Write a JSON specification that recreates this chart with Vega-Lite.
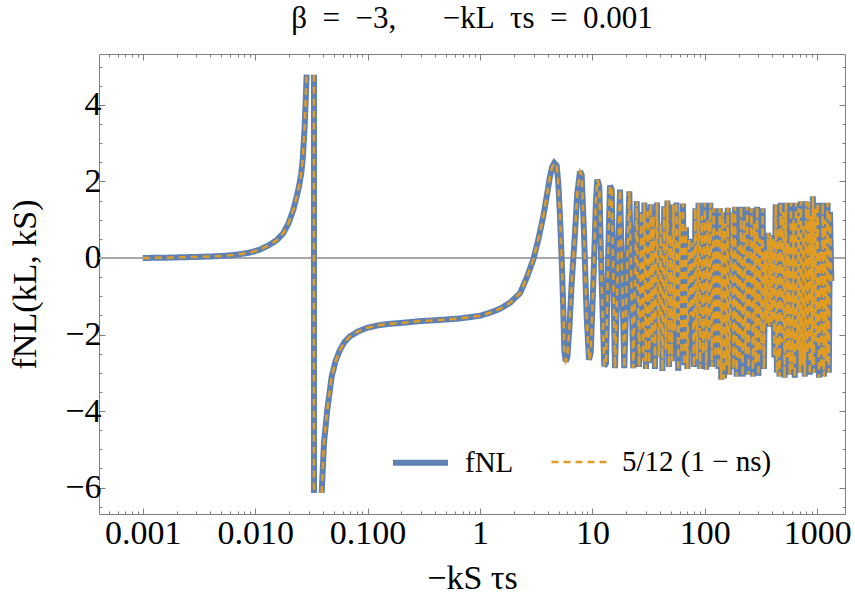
{
  "$schema": "https://vega.github.io/schema/vega-lite/v6.json",
  "width": 746,
  "height": 460,
  "autosize": {"type": "none"},
  "padding": {"left": 99, "top": 54, "right": 10, "bottom": 95},
  "background": "white",
  "title": {"text": "β\u00a0\u00a0=\u00a0\u00a0−3,\u00a0\u00a0\u00a0\u00a0\u00a0\u00a0−kL\u00a0\u00a0τs\u00a0\u00a0=\u00a0\u00a00.001", "font": "Liberation Serif", "fontSize": 31, "fontWeight": "normal", "color": "black", "anchor": "middle", "offset": 15},
  "config": {
    "view": {"stroke": "#7f7f7f", "strokeWidth": 1},
    "axis": {"domain": false, "grid": false, "tickColor": "#7f7f7f", "labelFont": "Liberation Serif", "labelFontSize": 34, "labelColor": "black", "labelOverlap": false, "labelBound": false, "labelFlush": false, "titleFont": "Liberation Serif", "titleFontSize": 34, "titleFontWeight": "normal", "titleColor": "black"}
  },
  "datasets": {
    "curve": [
      {"x": 0.001, "y": 0.0, "seg": "a"},
      {"x": 0.001746, "y": 0.01, "seg": "a"},
      {"x": 0.003228, "y": 0.03, "seg": "a"},
      {"x": 0.004862, "y": 0.05, "seg": "a"},
      {"x": 0.006607, "y": 0.08, "seg": "a"},
      {"x": 0.00899, "y": 0.14, "seg": "a"},
      {"x": 0.01104, "y": 0.22, "seg": "a"},
      {"x": 0.01354, "y": 0.35, "seg": "a"},
      {"x": 0.01563, "y": 0.47, "seg": "a"},
      {"x": 0.01779, "y": 0.65, "seg": "a"},
      {"x": 0.01977, "y": 0.9, "seg": "a"},
      {"x": 0.02184, "y": 1.26, "seg": "a"},
      {"x": 0.0233, "y": 1.58, "seg": "a"},
      {"x": 0.02467, "y": 1.9, "seg": "a"},
      {"x": 0.02567, "y": 2.2, "seg": "a"},
      {"x": 0.02647, "y": 2.57, "seg": "a"},
      {"x": 0.02757, "y": 3.44, "seg": "a"},
      {"x": 0.02831, "y": 4.31, "seg": "a"},
      {"x": 0.02871, "y": 4.79, "seg": "a"},
      {"x": 0.03335, "y": 4.79, "seg": "b"},
      {"x": 0.03335, "y": -6.14, "seg": "b"},
      {"x": 0.03905, "y": -6.14, "seg": "c"},
      {"x": 0.04094, "y": -4.84, "seg": "c"},
      {"x": 0.0438, "y": -3.97, "seg": "c"},
      {"x": 0.04795, "y": -3.1, "seg": "c"},
      {"x": 0.05182, "y": -2.7, "seg": "c"},
      {"x": 0.0568, "y": -2.4, "seg": "c"},
      {"x": 0.06293, "y": -2.18, "seg": "c"},
      {"x": 0.0697, "y": -2.05, "seg": "c"},
      {"x": 0.08214, "y": -1.92, "seg": "c"},
      {"x": 0.09813, "y": -1.83, "seg": "c"},
      {"x": 0.1238, "y": -1.76, "seg": "c"},
      {"x": 0.1582, "y": -1.72, "seg": "c"},
      {"x": 0.1942, "y": -1.7, "seg": "c"},
      {"x": 0.2925, "y": -1.65, "seg": "c"},
      {"x": 0.4405, "y": -1.62, "seg": "c"},
      {"x": 0.6639, "y": -1.58, "seg": "c"},
      {"x": 1.0, "y": -1.51, "seg": "c"},
      {"x": 1.227, "y": -1.43, "seg": "c"},
      {"x": 1.506, "y": -1.33, "seg": "c"},
      {"x": 1.849, "y": -1.17, "seg": "c"},
      {"x": 2.27, "y": -0.92, "seg": "c"},
      {"x": 2.603, "y": -0.52, "seg": "c"},
      {"x": 2.981, "y": -0.04, "seg": "c"},
      {"x": 3.302, "y": 0.48, "seg": "c"},
      {"x": 3.658, "y": 1.09, "seg": "c"},
      {"x": 3.922, "y": 1.61, "seg": "c"},
      {"x": 4.196, "y": 2.13, "seg": "c"},
      {"x": 4.398, "y": 2.39, "seg": "c"},
      {"x": 4.581, "y": 2.48, "seg": "c"},
      {"x": 4.812, "y": 2.41, "seg": "c"},
      {"x": 4.973, "y": 1.96, "seg": "c"},
      {"x": 5.149, "y": 1.09, "seg": "c"},
      {"x": 5.332, "y": -0.04, "seg": "c"},
      {"x": 5.51, "y": -1.35, "seg": "c"},
      {"x": 5.623, "y": -2.4, "seg": "c"},
      {"x": 5.788, "y": -2.7, "seg": "c"},
      {"x": 5.98, "y": -2.61, "seg": "c"},
      {"x": 6.231, "y": -1.87, "seg": "c"},
      {"x": 6.545, "y": -0.65, "seg": "c"},
      {"x": 7.002, "y": 0.65, "seg": "c"},
      {"x": 7.34, "y": 1.7, "seg": "c"},
      {"x": 7.757, "y": 2.26, "seg": "c"},
      {"x": 8.031, "y": 2.18, "seg": "c"},
      {"x": 8.421, "y": 0.65, "seg": "c"},
      {"x": 8.898, "y": -1.53, "seg": "c"},
      {"x": 9.329, "y": -2.66, "seg": "c"},
      {"x": 9.658, "y": -2.48, "seg": "c"},
      {"x": 10.19, "y": -0.65, "seg": "c"},
      {"x": 10.76, "y": 1.52, "seg": "c"},
      {"x": 11.06, "y": 2.05, "seg": "c"},
      {"x": 11.52, "y": 1.87, "seg": "c"},
      {"x": 12.1, "y": -0.65, "seg": "c"},
      {"x": 12.76, "y": -2.83, "seg": "c"},
      {"x": 13.21, "y": -2.75, "seg": "c"},
      {"x": 13.85, "y": 0.22, "seg": "c"},
      {"x": 14.34, "y": 1.89, "seg": "c"},
      {"x": 14.85, "y": 1.79, "seg": "c"},
      {"x": 15.89, "y": -2.88, "seg": "c"},
      {"x": 17.61, "y": 1.79, "seg": "c"},
      {"x": 19.22, "y": -2.88, "seg": "c"},
      {"x": 21.3, "y": 1.74, "seg": "c"},
      {"x": 23.12, "y": -2.88, "seg": "c"},
      {"x": 24.79, "y": 1.48, "seg": "c"},
      {"x": 26.0, "y": -2.85, "seg": "c"},
      {"x": 27.2, "y": 1.2, "seg": "c"},
      {"x": 28.3, "y": -2.7, "seg": "c"},
      {"x": 29.0, "y": 1.45, "seg": "c"},
      {"x": 30.0, "y": -2.9, "seg": "c"},
      {"x": 31.0, "y": 1.3, "seg": "c"},
      {"x": 32.0, "y": -2.75, "seg": "c"},
      {"x": 33.0, "y": 1.4, "seg": "c"},
      {"x": 34.0, "y": -2.2, "seg": "c"},
      {"x": 35.0, "y": 1.1, "seg": "c"},
      {"x": 36.0, "y": -2.9, "seg": "c"},
      {"x": 37.5, "y": 1.45, "seg": "c"},
      {"x": 39.0, "y": -2.6, "seg": "c"},
      {"x": 40.5, "y": 0.9, "seg": "c"},
      {"x": 42.0, "y": -2.95, "seg": "c"},
      {"x": 43.5, "y": 1.35, "seg": "c"},
      {"x": 45.0, "y": -2.4, "seg": "c"},
      {"x": 46.5, "y": 1.5, "seg": "c"},
      {"x": 48.0, "y": -2.85, "seg": "c"},
      {"x": 49.5, "y": 0.6, "seg": "c"},
      {"x": 51.0, "y": -2.7, "seg": "c"},
      {"x": 52.5, "y": 1.4, "seg": "c"},
      {"x": 54.0, "y": -1.9, "seg": "c"},
      {"x": 56.0, "y": 1.45, "seg": "c"},
      {"x": 58.0, "y": -2.95, "seg": "c"},
      {"x": 60.0, "y": 1.2, "seg": "c"},
      {"x": 62.0, "y": -2.5, "seg": "c"},
      {"x": 64.0, "y": 1.42, "seg": "c"},
      {"x": 66.0, "y": -2.8, "seg": "c"},
      {"x": 68.0, "y": 0.8, "seg": "c"},
      {"x": 70.0, "y": -2.9, "seg": "c"},
      {"x": 72.5, "y": 0.5, "seg": "c"},
      {"x": 75.0, "y": -1.5, "seg": "c"},
      {"x": 77.5, "y": 0.4, "seg": "c"},
      {"x": 80.0, "y": -2.85, "seg": "c"},
      {"x": 82.5, "y": 1.3, "seg": "c"},
      {"x": 85.0, "y": -2.65, "seg": "c"},
      {"x": 88.0, "y": 1.44, "seg": "c"},
      {"x": 91.0, "y": -2.9, "seg": "c"},
      {"x": 94.0, "y": 1.1, "seg": "c"},
      {"x": 97.0, "y": -2.5, "seg": "c"},
      {"x": 100.0, "y": 1.44, "seg": "c"},
      {"x": 103.0, "y": -2.92, "seg": "c"},
      {"x": 106.0, "y": 1.0, "seg": "c"},
      {"x": 109.0, "y": -2.2, "seg": "c"},
      {"x": 112.0, "y": 1.44, "seg": "c"},
      {"x": 116.0, "y": -2.85, "seg": "c"},
      {"x": 120.0, "y": 1.3, "seg": "c"},
      {"x": 124.0, "y": -2.6, "seg": "c"},
      {"x": 128.0, "y": 0.7, "seg": "c"},
      {"x": 132.0, "y": -2.9, "seg": "c"},
      {"x": 136.0, "y": 1.3, "seg": "c"},
      {"x": 140.0, "y": -3.18, "seg": "c"},
      {"x": 144.0, "y": 1.2, "seg": "c"},
      {"x": 148.0, "y": -3.15, "seg": "c"},
      {"x": 152.0, "y": 0.9, "seg": "c"},
      {"x": 156.0, "y": -2.8, "seg": "c"},
      {"x": 160.0, "y": 1.31, "seg": "c"},
      {"x": 165.0, "y": -3.05, "seg": "c"},
      {"x": 170.0, "y": -0.5, "seg": "c"},
      {"x": 175.0, "y": 1.2, "seg": "c"},
      {"x": 180.0, "y": -2.9, "seg": "c"},
      {"x": 186.0, "y": 1.34, "seg": "c"},
      {"x": 192.0, "y": -3.1, "seg": "c"},
      {"x": 198.0, "y": 0.3, "seg": "c"},
      {"x": 204.0, "y": -2.7, "seg": "c"},
      {"x": 210.0, "y": 1.34, "seg": "c"},
      {"x": 217.0, "y": -3.1, "seg": "c"},
      {"x": 224.0, "y": 1.0, "seg": "c"},
      {"x": 231.0, "y": -2.5, "seg": "c"},
      {"x": 238.0, "y": 1.34, "seg": "c"},
      {"x": 245.0, "y": -3.05, "seg": "c"},
      {"x": 252.0, "y": -0.8, "seg": "c"},
      {"x": 260.0, "y": 1.3, "seg": "c"},
      {"x": 268.0, "y": -3.1, "seg": "c"},
      {"x": 276.0, "y": 0.9, "seg": "c"},
      {"x": 284.0, "y": -2.75, "seg": "c"},
      {"x": 292.0, "y": 1.34, "seg": "c"},
      {"x": 300.0, "y": -3.08, "seg": "c"},
      {"x": 309.0, "y": 0.5, "seg": "c"},
      {"x": 318.0, "y": -2.4, "seg": "c"},
      {"x": 327.0, "y": 1.3, "seg": "c"},
      {"x": 336.0, "y": -2.9, "seg": "c"},
      {"x": 345.0, "y": 0.2, "seg": "c"},
      {"x": 355.0, "y": -1.7, "seg": "c"},
      {"x": 365.0, "y": 0.66, "seg": "c"},
      {"x": 375.0, "y": -1.8, "seg": "c"},
      {"x": 385.0, "y": 0.6, "seg": "c"},
      {"x": 395.0, "y": -1.7, "seg": "c"},
      {"x": 405.0, "y": 0.5, "seg": "c"},
      {"x": 416.0, "y": -2.6, "seg": "c"},
      {"x": 427.0, "y": 1.4, "seg": "c"},
      {"x": 438.0, "y": -3.0, "seg": "c"},
      {"x": 450.0, "y": 0.8, "seg": "c"},
      {"x": 462.0, "y": -3.1, "seg": "c"},
      {"x": 474.0, "y": 1.44, "seg": "c"},
      {"x": 487.0, "y": -2.2, "seg": "c"},
      {"x": 500.0, "y": 1.2, "seg": "c"},
      {"x": 513.0, "y": -3.13, "seg": "c"},
      {"x": 527.0, "y": 1.44, "seg": "c"},
      {"x": 541.0, "y": -2.6, "seg": "c"},
      {"x": 555.0, "y": 0.4, "seg": "c"},
      {"x": 570.0, "y": -3.05, "seg": "c"},
      {"x": 585.0, "y": 1.44, "seg": "c"},
      {"x": 600.0, "y": -2.9, "seg": "c"},
      {"x": 616.0, "y": 1.0, "seg": "c"},
      {"x": 632.0, "y": -3.13, "seg": "c"},
      {"x": 648.0, "y": 1.44, "seg": "c"},
      {"x": 665.0, "y": -2.4, "seg": "c"},
      {"x": 682.0, "y": 1.3, "seg": "c"},
      {"x": 700.0, "y": -3.0, "seg": "c"},
      {"x": 718.0, "y": 1.48, "seg": "c"},
      {"x": 737.0, "y": -2.8, "seg": "c"},
      {"x": 756.0, "y": 0.9, "seg": "c"},
      {"x": 776.0, "y": -3.1, "seg": "c"},
      {"x": 796.0, "y": 1.48, "seg": "c"},
      {"x": 817.0, "y": -2.5, "seg": "c"},
      {"x": 838.0, "y": 1.45, "seg": "c"},
      {"x": 860.0, "y": -3.05, "seg": "c"},
      {"x": 882.0, "y": 1.1, "seg": "c"},
      {"x": 905.0, "y": -2.8, "seg": "c"},
      {"x": 915.0, "y": 1.61, "seg": "c"},
      {"x": 935.0, "y": -3.0, "seg": "c"},
      {"x": 960.0, "y": 1.3, "seg": "c"},
      {"x": 985.0, "y": -2.2, "seg": "c"},
      {"x": 1010.0, "y": 1.44, "seg": "c"},
      {"x": 1036.0, "y": -3.13, "seg": "c"},
      {"x": 1062.0, "y": 0.2, "seg": "c"},
      {"x": 1090.0, "y": -2.9, "seg": "c"},
      {"x": 1118.0, "y": 1.44, "seg": "c"},
      {"x": 1147.0, "y": -3.1, "seg": "c"},
      {"x": 1176.0, "y": 1.0, "seg": "c"},
      {"x": 1206.0, "y": -2.7, "seg": "c"},
      {"x": 1237.0, "y": 1.44, "seg": "c"},
      {"x": 1269.0, "y": -3.0, "seg": "c"},
      {"x": 1300.0, "y": 1.2, "seg": "c"},
      {"x": 1335.0, "y": -0.6, "seg": "c"}
    ]
  },
  "data": {"name": "curve"},
  "resolve": {"axis": {"x": "independent", "y": "independent"}},
  "layer": [
    {
      "mark": {"type": "rule", "color": "#a8a8a8", "strokeWidth": 1},
      "encoding": {
        "y": {"datum": 0, "type": "quantitative", "scale": {"domain": [-6.69, 5.33], "nice": false, "zero": false}, "axis": null}
      }
    },
    {
      "mark": {"type": "line", "clip": true, "strokeJoin": "miter", "strokeMiterLimit": 3},
      "encoding": {
        "x": {"field": "x", "type": "quantitative",
          "scale": {"type": "log", "domain": [0.000408, 1767], "nice": false},
          "axis": {"orient": "bottom",
            "values": [0.0005,0.0006,0.0007,0.0008,0.0009,0.001,0.002,0.003,0.004,0.005,0.006,0.007,0.008,0.009,0.01,0.02,0.03,0.04,0.05,0.06,0.07,0.08,0.09,0.1,0.2,0.3,0.4,0.5,0.6,0.7,0.8,0.9,1,2,3,4,5,6,7,8,9,10,20,30,40,50,60,70,80,90,100,200,300,400,500,600,700,800,900,1000],
            "labelExpr": "datum.value == 0.001 ? '0.001' : datum.value == 0.01 ? '0.010' : datum.value == 0.1 ? '0.100' : (datum.value == 1 || datum.value == 10 || datum.value == 100 || datum.value == 1000) ? format(datum.value, 'd') : ''",
            "tickSize": {"condition": {"test": "datum.value == 0.001 || datum.value == 0.01 || datum.value == 0.1 || datum.value == 1 || datum.value == 10 || datum.value == 100 || datum.value == 1000", "value": -6}, "value": -3},
            "labelPadding": 8,
            "title": "−kS τs",
            "titlePadding": 8}},
        "y": {"field": "y", "type": "quantitative",
          "scale": {"domain": [-6.69, 5.33], "nice": false, "zero": false},
          "axis": {"orient": "left",
            "values": [-6.5,-6,-5.5,-5,-4.5,-4,-3.5,-3,-2.5,-2,-1.5,-1,-0.5,0,0.5,1,1.5,2,2.5,3,3.5,4,4.5,5],
            "labelExpr": "datum.value % 2 == 0 ? format(datum.value, 'd') : ''",
            "tickSize": {"condition": {"test": "datum.value % 2 == 0", "value": -6}, "value": -3},
            "labelPadding": 4,
            "title": "fNL(kL, kS)",
            "titlePadding": 22}},
        "detail": {"field": "seg", "type": "nominal"},
        "color": {"datum": "fNL", "type": "nominal",
          "scale": {"domain": ["fNL", "5/12 (1 − ns)"], "range": ["#5E81B5", "#E19C24"]},
          "legend": {"orient": "none", "legendX": 291, "legendY": 378, "direction": "horizontal", "title": null, "symbolType": "stroke", "symbolSize": 3025, "labelFont": "Liberation Serif", "labelFontSize": 29, "labelColor": "black", "labelOffset": 14, "columnPadding": 32, "padding": 0, "labelLimit": 400}},
        "strokeDash": {"datum": "fNL", "type": "nominal",
          "scale": {"domain": ["fNL", "5/12 (1 − ns)"], "range": [[1, 0], [7, 5]]}},
        "strokeWidth": {"datum": "fNL", "type": "nominal",
          "scale": {"domain": ["fNL", "5/12 (1 − ns)"], "range": [6, 2.5]}}
      }
    },
    {
      "mark": {"type": "line", "clip": true},
      "encoding": {
        "x": {"field": "x", "type": "quantitative",
          "scale": {"type": "log", "domain": [0.000408, 1767], "nice": false},
          "axis": {"orient": "top", "labels": false, "title": null,
            "values": [0.0005,0.0006,0.0007,0.0008,0.0009,0.001,0.002,0.003,0.004,0.005,0.006,0.007,0.008,0.009,0.01,0.02,0.03,0.04,0.05,0.06,0.07,0.08,0.09,0.1,0.2,0.3,0.4,0.5,0.6,0.7,0.8,0.9,1,2,3,4,5,6,7,8,9,10,20,30,40,50,60,70,80,90,100,200,300,400,500,600,700,800,900,1000],
            "tickSize": {"condition": {"test": "datum.value == 0.001 || datum.value == 0.01 || datum.value == 0.1 || datum.value == 1 || datum.value == 10 || datum.value == 100 || datum.value == 1000", "value": -6}, "value": -3}}},
        "y": {"field": "y", "type": "quantitative",
          "scale": {"domain": [-6.69, 5.33], "nice": false, "zero": false},
          "axis": {"orient": "right", "labels": false, "title": null,
            "values": [-6.5,-6,-5.5,-5,-4.5,-4,-3.5,-3,-2.5,-2,-1.5,-1,-0.5,0,0.5,1,1.5,2,2.5,3,3.5,4,4.5,5],
            "tickSize": {"condition": {"test": "datum.value % 2 == 0", "value": -6}, "value": -3}}},
        "detail": {"field": "seg", "type": "nominal"},
        "color": {"datum": "5/12 (1 − ns)", "type": "nominal"},
        "strokeDash": {"datum": "5/12 (1 − ns)", "type": "nominal"},
        "strokeWidth": {"datum": "5/12 (1 − ns)", "type": "nominal"}
      }
    }
  ]
}
